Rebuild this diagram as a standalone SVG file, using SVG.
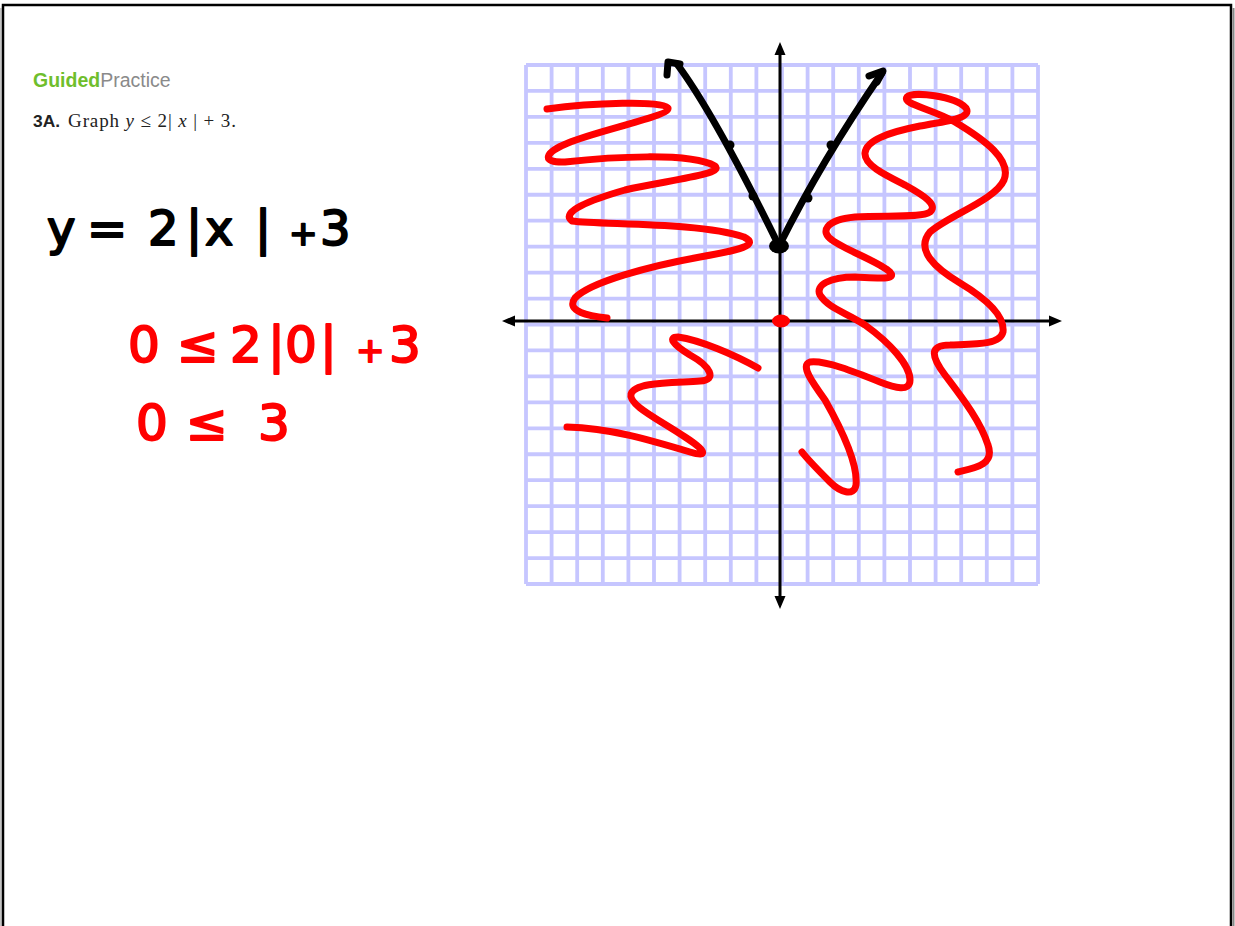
<svg xmlns="http://www.w3.org/2000/svg" width="1235" height="926" viewBox="0 0 1235 926">
<style>
.grid{stroke:#c6c6ff;stroke-width:3.8;fill:none}
.axis{stroke:#000;stroke-width:3;fill:none}
.ink{fill:none;stroke-linecap:round;stroke-linejoin:round}
.red{stroke:#ff0000;stroke-width:7}
.blk{stroke:#000;stroke-width:7}
.hand{font-family:"DejaVu Sans",sans-serif;stroke-width:2;stroke-linejoin:round}
</style>
<rect x="0" y="0" width="1235" height="926" fill="#fff"/>
<g id="page">
<path d="M3,926 V5 H1231 V926" fill="none" stroke="#000" stroke-width="2.5"/>
<path d="M1233.5,8 V926" stroke="#888" stroke-width="2"/>
<path d="M1,8 V926" stroke="#888" stroke-width="1"/>
</g>
<g id="header">
<text x="33" y="87" font-family="Liberation Sans, sans-serif" font-size="19.5"><tspan font-weight="bold" fill="#6fbe2c">Guided</tspan><tspan fill="#8a8a8a">Practice</tspan></text>
<text x="33" y="127" font-family="Liberation Sans, sans-serif" font-size="17" font-weight="bold" fill="#222" textLength="27" lengthAdjust="spacingAndGlyphs">3A.</text>
<text x="68" y="127" font-family="Liberation Serif, serif" font-size="19" fill="#222" textLength="168" lengthAdjust="spacing">Graph <tspan font-style="italic">y</tspan> ≤ 2| <tspan font-style="italic">x</tspan> | + 3.</text>
</g>
<g id="equation">
<text class="hand" y="245" font-size="48" fill="#000" stroke="#000"><tspan x="47 87 148 186 205 255">y=2|x|</tspan><tspan x="289" font-size="34">+</tspan><tspan x="320">3</tspan></text>
</g>
<g id="test-point">
<text class="hand" y="362" font-size="50" fill="#f00" stroke="#f00"><tspan x="128 177 230 268 285 320">0≤2|0|</tspan><tspan x="356" font-size="34">+</tspan><tspan x="389">3</tspan></text>
<text class="hand" x="136 186 258" y="440" font-size="50" fill="#f00" stroke="#f00">0≤3</text>
</g>
<g id="grid">
<path class="grid" d="M526,65V584M551.6,65V584M577.2,65V584M602.8,65V584M628.4,65V584M654,65V584M679.6,65V584M705.2,65V584M730.8,65V584M756.4,65V584M782,65V584M807.6,65V584M833.2,65V584M858.8,65V584M884.4,65V584M910,65V584M935.6,65V584M961.2,65V584M986.8,65V584M1012.4,65V584M1038,65V584"/>
<path class="grid" d="M526,65H1038M526,90.95H1038M526,116.9H1038M526,142.85H1038M526,168.8H1038M526,194.75H1038M526,220.7H1038M526,246.65H1038M526,272.6H1038M526,298.55H1038M526,324.5H1038M526,350.45H1038M526,376.4H1038M526,402.35H1038M526,428.3H1038M526,454.25H1038M526,480.2H1038M526,506.15H1038M526,532.1H1038M526,558.05H1038M526,584H1038"/>
</g>
<g id="axes">
<path class="axis" d="M508,321H1056M780,48V603"/>
<path d="M502,321L515,315.5L515,326.5Z M1062,321L1049,315.5L1049,326.5Z M780,42L774.5,55L785.5,55Z M780,609L774.5,596L785.5,596Z" fill="#000"/>
</g>
<g id="shading">
<path class="ink red" d="M547,109 C590,103 665,100 668,108 C670,116 600,130 568,143 C545,152 540,163 565,162 C610,157 690,152 715,166 C725,174 670,180 625,190 C590,200 560,212 572,221 C600,225 700,222 744,237 C760,245 740,250 700,257 C650,266 590,282 575,298 C565,312 590,316 607,318"/>
<path class="ink red" d="M758,368 C735,355 700,340 678,337 C668,337 672,344 690,355 C710,366 718,380 700,381 C670,383 635,382 631,394 C628,405 660,420 685,437 C705,450 710,458 690,452 C650,440 610,428 567,427"/>
<path class="ink red" d="M958,472 C975,468 995,465 988,445 C980,420 960,395 945,375 C930,355 930,345 950,345 C975,344 1000,345 1003,332 C1005,315 985,298 960,283 C935,268 915,250 930,232 C950,215 995,200 1004,180 C1012,160 985,140 955,122 C930,108 902,104 907,97 C913,91 955,96 966,108 C972,118 950,121 920,126 C890,132 866,140 865,153 C864,165 885,175 905,185 C925,196 938,205 930,212 C922,218 885,215 855,217 C825,220 820,232 832,240 C845,250 880,262 890,272 C897,280 880,278 855,277 C830,277 815,285 820,295 C828,308 845,312 865,325 C890,343 910,365 910,380 C910,392 895,388 880,382 C855,372 825,360 810,362 C800,365 812,382 825,400 C842,430 858,465 856,485 C854,497 840,492 830,482 C818,470 808,460 802,452"/>
<ellipse cx="781" cy="321" rx="9" ry="6.5" fill="#f00"/>
</g>
<g id="boundary">
<path class="ink blk" d="M677,64 Q715,115 779,246 Q822,160 882,73"/>
<path class="ink blk" d="M667,75 L668,62 L680,64"/>
<path class="ink blk" d="M869,76 L883,71 L877,82"/>
<circle cx="730" cy="145" r="4.5" fill="#000"/>
<circle cx="753" cy="196" r="4.5" fill="#000"/>
<circle cx="808" cy="198" r="4.5" fill="#000"/>
<circle cx="831" cy="145" r="4.5" fill="#000"/>
<ellipse cx="779" cy="246" rx="10" ry="7.5" fill="#000"/>
</g>
</svg>
